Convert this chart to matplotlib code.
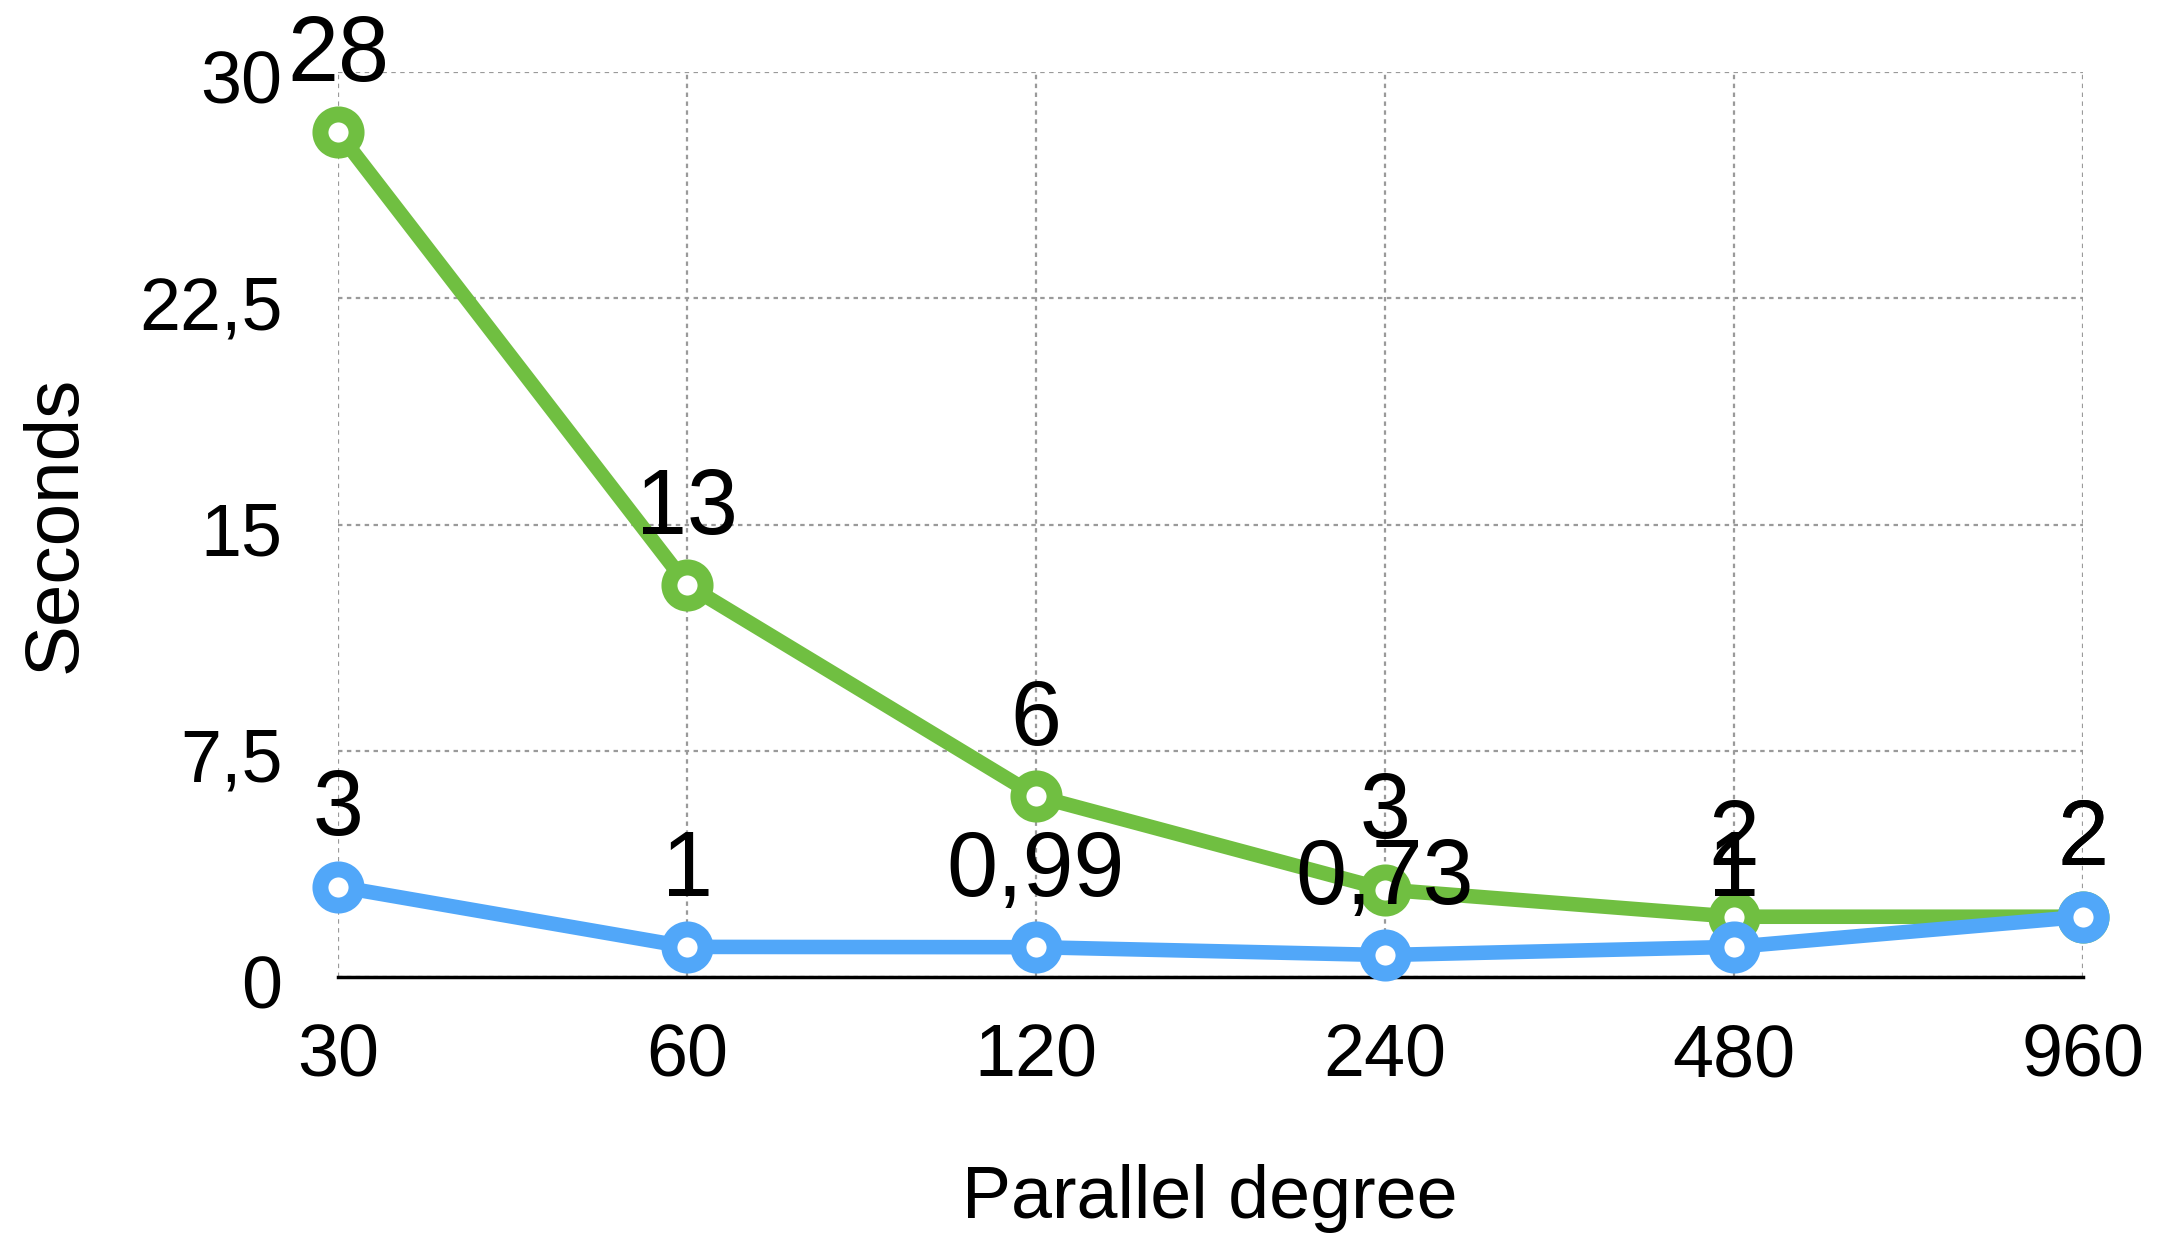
import matplotlib
matplotlib.use("Agg")
import matplotlib.pyplot as plt
import matplotlib.transforms as mtransforms

# Data
parallel_degree = ["30", "60", "120", "240", "480", "960"]
green_seconds = [28, 13, 6, 2.9, 2, 2]
green_labels = ["28", "13", "6", "3", "2", "2"]
blue_seconds = [3, 1, 0.99, 0.73, 1, 2]
blue_labels = ["3", "1", "0,99", "0,73", "1", "2"]
y_ticks = [0, 7.5, 15, 22.5, 30]
y_tick_labels = ["0", "7,5", "15", "22,5", "30"]

GREEN = "#70BF41"
BLUE = "#51A7F9"

plt.rcParams["font.family"] = ["Liberation Sans", "DejaVu Sans"]

fig = plt.figure(figsize=(21.63, 12.36), dpi=100)
ax = fig.add_axes([0.1563, 0.2095, 0.8067, 0.7322])

x = list(range(len(parallel_degree)))

line_kw = dict(linewidth=10.5, marker="o", markersize=26, markeredgewidth=11.5,
               markerfacecolor="white", solid_capstyle="round", clip_on=False)
ax.plot(x, green_seconds, color=GREEN, zorder=3, **line_kw)
ax.plot(x, blue_seconds, color=BLUE, zorder=4, **line_kw)

# Value labels above each point
for xs, ys, labs in ((x, green_seconds, green_labels), (x, blue_seconds, blue_labels)):
    for xi, yi, lab in zip(xs, ys, labs):
        ax.annotate(lab, (xi, yi), xytext=(0, 37), textcoords="offset points",
                    ha="center", va="baseline", fontsize=66, color="black", zorder=6)

ax.set_xlim(0, 5)
ax.set_ylim(0, 30)
ax.set_xticks(x)
ax.set_xticklabels(parallel_degree)
ax.set_yticks(y_ticks)
ax.set_yticklabels(y_tick_labels)

ax.tick_params(axis="both", length=0, labelsize=53, colors="black")
ax.tick_params(axis="x", pad=33)
ax.tick_params(axis="y", pad=40)
# shift y tick labels slightly downward
offset = mtransforms.ScaledTranslation(0, -4 / 100, fig.dpi_scale_trans)
for lbl in ax.get_yticklabels():
    lbl.set_transform(lbl.get_transform() + offset)

ax.grid(True, color="#9A9A9A", linestyle=(0, (2, 2)), linewidth=1.6)
ax.set_axisbelow(True)
for side in ("left", "right", "top"):
    ax.spines[side].set_visible(False)
ax.spines["bottom"].set_linewidth(2.5)
ax.spines["bottom"].set_color("black")
ax.spines["bottom"].set_zorder(2)

fig.text(0.026, 0.576, "Seconds", rotation=90, ha="center", va="center", fontsize=55)
fig.text(0.5594, 0.030, "Parallel degree", ha="center", va="center", fontsize=53)

fig.savefig("out.png", dpi=100)
